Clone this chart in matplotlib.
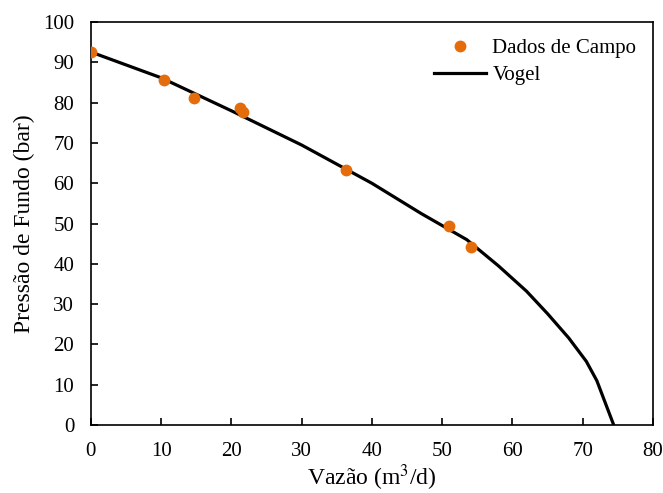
import matplotlib.pyplot as plt

plt.rcParams['font.family'] = ['Liberation Serif', 'DejaVu Serif']
plt.rcParams['mathtext.fontset'] = 'stix'

# field measurements: flow rate (m3/d) and bottom-hole pressure (bar)
q_campo = [0.0, 10.4, 14.7, 21.2, 21.6, 36.3, 51.0, 54.1]
p_campo = [92.6, 85.6, 81.1, 78.7, 77.6, 63.4, 49.5, 44.2]

# Vogel IPR curve
q_vogel = [0.0, 10.0, 20.0, 30.0, 40.0, 47.0, 53.5, 58.0, 62.0, 65.0, 68.0, 70.5, 72.0, 74.4]
p_vogel = [92.6, 86.2, 78.0, 69.5, 60.0, 52.5, 46.0, 39.5, 33.2, 27.6, 21.6, 15.8, 11.0, 0.0]

fig = plt.figure(figsize=(6.63, 4.93), dpi=100)
ax = fig.add_axes([0.137, 0.138, 0.848, 0.817])

ax.plot(q_campo, p_campo, 'o', color='#E46C0A', markersize=7.5, label='Dados de Campo', zorder=3)
ax.plot(q_vogel, p_vogel, '-', color='black', linewidth=2.3, label='Vogel', zorder=2)

ax.set_xlim(0, 80)
ax.set_ylim(0, 100)
ax.set_xticks(range(0, 81, 10))
ax.set_yticks(range(0, 101, 10))
ax.tick_params(direction='in', labelsize=15, length=5, width=1.2)
ax.tick_params(axis='x', pad=12)
ax.tick_params(axis='y', pad=12)
for s in ax.spines.values():
    s.set_linewidth(1.2)

ax.set_xlabel('Vazão (m$^3$/d)', fontsize=17, labelpad=1)
ax.set_ylabel('Pressão de Fundo (bar)', fontsize=17, labelpad=6)

ax.legend(loc='upper right', frameon=False, fontsize=15, handlelength=2.5,
          handletextpad=0.3, borderaxespad=0.4, labelspacing=0.35)

fig.savefig('out.png', dpi=100)
